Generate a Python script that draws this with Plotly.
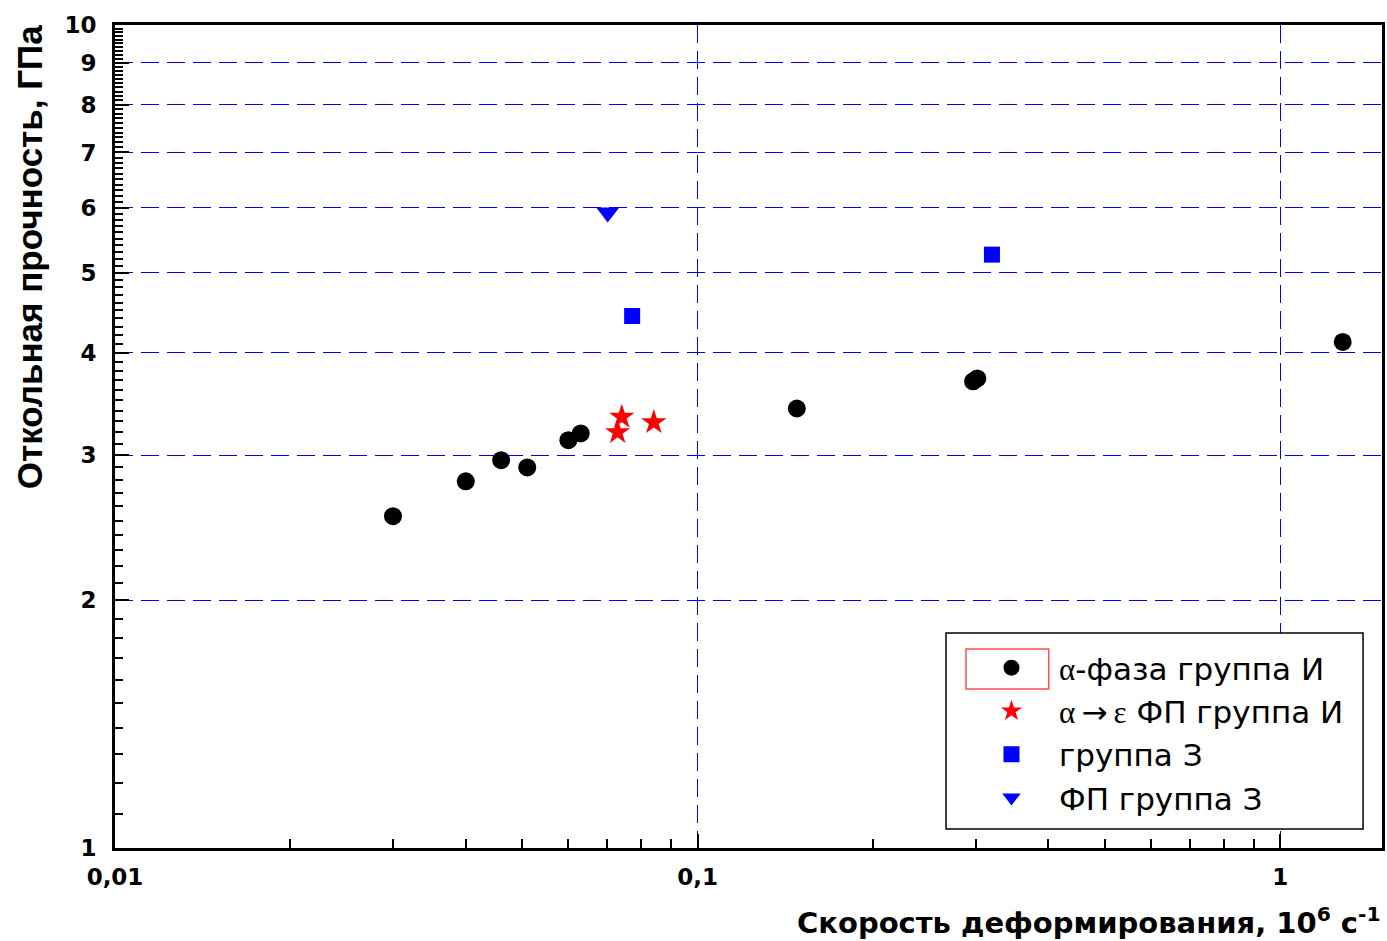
import plotly.graph_objects as go
import numpy as np

# ---- data ----
alpha_x = [0.030, 0.040, 0.046, 0.051, 0.060, 0.063, 0.148, 0.297, 0.302, 1.28]
alpha_y = [2.53, 2.79, 2.96, 2.90, 3.13, 3.19, 3.42, 3.69, 3.72, 4.12]

star_x = [0.0741, 0.0729, 0.0841]
star_y = [3.34, 3.20, 3.29]

sq_x = [0.0772, 0.320]
sq_y = [4.43, 5.26]

tri_x = [0.0701]
tri_y = [5.92]

SERIF = '<span style="font-family:Liberation Serif">'
names = [
    SERIF + 'α</span>-фаза группа И',
    SERIF + 'α</span>\u2009→\u2009' + SERIF + 'ε</span> ФП группа И',
    'группа З',
    'ФП группа З',
]

y_major = [1, 2, 3, 4, 5, 6, 7, 8, 9, 10]
y_major_text = ["1", "2", "3", "4", "5", "6", "7", "8", "9", "10"]
x_major = [0.01, 0.1, 1]
x_major_text = ["0,01", "0,1", "1"]

y_minor = [round(v, 1) for v in np.arange(1.1, 10.0, 0.1) if abs(v - round(v)) > 1e-6]
x_minor = [m * d for d in (0.01, 0.1, 1) for m in range(2, 10) if m * d <= 1.5]

W, H = 1387, 941
ML, MR, MT, MB = 115, 2, 25, 93
PW, PH = W - ML - MR, H - MT - MB

def px2paper(x, y):
    return (x - ML) / PW, (H - MB - y) / PH

ARIAL = "Liberation Sans, Arial, sans-serif"
WIDE = "DejaVu Sans, sans-serif"

fig = go.Figure()
fig.add_trace(go.Scatter(x=alpha_x, y=alpha_y, mode="markers", name=names[0], legendgroup="a",
                         marker=dict(symbol="circle", size=18, color="black")))
fig.add_trace(go.Scatter(x=star_x, y=star_y, mode="markers", name=names[1], legendgroup="b",
                         marker=dict(symbol="star", size=19, color="red")))
fig.add_trace(go.Scatter(x=sq_x, y=sq_y, mode="markers", name=names[2], legendgroup="c",
                         marker=dict(symbol="square", size=16, color="blue")))
fig.add_trace(go.Scatter(x=tri_x, y=tri_y, mode="markers", name=names[3], legendgroup="d",
                         marker=dict(symbol="triangle-down", size=20, color="blue")))

axis_common = dict(
    type="log", showline=True, linecolor="black", linewidth=3, mirror=True,
    ticks="inside", ticklen=14, tickwidth=2, tickcolor="black",
    tickmode="array", showgrid=True, gridcolor="#0000ff", gridwidth=1,
    griddash="18px,8px", zeroline=False,
    tickfont=dict(family=WIDE, size=23, color="black", weight="bold"),
)

fig.update_xaxes(**axis_common, range=[-2, np.log10(1.495)],
                 tickvals=x_major, ticktext=x_major_text, ticklabelstandoff=6,
                 minor=dict(tickmode="array", tickvals=x_minor, ticks="inside",
                            ticklen=9, tickwidth=2, tickcolor="black", showgrid=False))
fig.update_yaxes(**axis_common, range=[0, 1],
                 tickvals=y_major, ticktext=y_major_text, ticklabelstandoff=11,
                 minor=dict(tickmode="array", tickvals=y_minor, ticks="inside",
                            ticklen=8, tickwidth=2, tickcolor="black", showgrid=False))

# legend box (drawn as shape) and the red selection rectangle
lx0, ly1 = px2paper(948, 633)
lx1, ly0 = px2paper(1366, 829)
rx0, ry1 = px2paper(968, 649)
rx1, ry0 = px2paper(1051, 689)
fig.add_shape(type="rect", xref="paper", yref="paper", x0=lx0, x1=lx1, y0=ly0, y1=ly1,
              line=dict(color="black", width=1.5), fillcolor="white", layer="above")
fig.add_shape(type="rect", xref="paper", yref="paper", x0=rx0, x1=rx1, y0=ry0, y1=ry1,
              line=dict(color="#ff5050", width=1.5), fillcolor="rgba(0,0,0,0)", layer="above")

ax, ay = px2paper(29, 257)
fig.add_annotation(text="<b>Откольная прочность, ГПа</b>", xref="paper", yref="paper",
                   x=ax, y=ay, xanchor="center", yanchor="middle", textangle=-90,
                   showarrow=False, font=dict(family=ARIAL, size=35, color="black"))
bx, by = px2paper(1386, 921)
fig.add_annotation(text="<b>Скорость деформирования, 10<sup>6</sup> с<sup>-1</sup></b>",
                   xref="paper", yref="paper", x=bx, y=by, xanchor="right", yanchor="middle",
                   showarrow=False, font=dict(family=WIDE, size=29, color="black"))

gx, gy = px2paper(966, 641)
fig.update_layout(
    width=W, height=H, margin=dict(l=ML, r=MR, t=MT, b=MB),
    paper_bgcolor="white", plot_bgcolor="white", showlegend=True,
    legend=dict(x=gx, y=gy, xanchor="left", yanchor="top", bgcolor="rgba(0,0,0,0)",
                borderwidth=0, itemwidth=85, tracegroupgap=0,
                font=dict(family=WIDE, size=31, color="black")),
)

fig.write_html("out.html", config={"displayModeBar": False},
               post_script="document.body.style.margin='0px';document.body.style.overflow='hidden';")
